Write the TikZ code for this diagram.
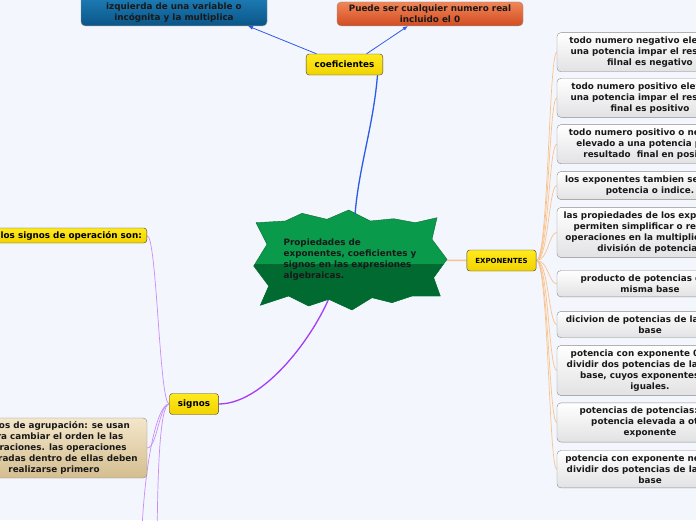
\documentclass[tikz,border=0pt]{standalone}
\usepackage{fontspec}
\setmainfont{DejaVu Sans}
\usetikzlibrary{arrows.meta, positioning, backgrounds}

\definecolor{pagebg}{HTML}{F4F6FD}
\definecolor{topicA}{HTML}{FFEA1E}
\definecolor{topicB}{HTML}{F2D200}
\definecolor{blueA}{HTML}{2386C2}
\definecolor{blueB}{HTML}{0A5688}
\definecolor{orngA}{HTML}{F08656}
\definecolor{orngB}{HTML}{D24C22}
\definecolor{tanA}{HTML}{F3E6CA}
\definecolor{tanB}{HTML}{D4BE90}
\definecolor{greyA}{HTML}{FFFFFF}
\definecolor{greyB}{HTML}{E2E2E4}
\definecolor{burstA}{HTML}{0A9A4B}
\definecolor{burstB}{HTML}{006A31}
\definecolor{burstE}{HTML}{0B6E32}
\definecolor{linkblue}{HTML}{2D5BE8}
\definecolor{linkpeach}{HTML}{F9C28A}
\definecolor{linkpurple}{HTML}{A43DF7}
\definecolor{linklilac}{HTML}{C98CF9}

\begin{document}
\begin{tikzpicture}[x=1pt, y=-1pt,
  font=\fontsize{8.8}{11}\selectfont\bfseries,
  topic/.style={draw=black!75, rounded corners=3pt, top color=topicA, bottom color=topicB,
    minimum height=21pt, inner xsep=8.5pt, inner ysep=0pt},
  notebox/.style={draw=black!45, rounded corners=4pt, align=center, inner ysep=3pt, minimum width=186pt},
  infobox/.style={draw=black!45, rounded corners=4pt, align=center, inner ysep=4.3pt,
    minimum width=186pt, top color=greyA, bottom color=greyB, text=black!90},
  mainlink/.style={line width=1.3pt},
  sublink/.style={line width=0.7pt},
  tip/.style={-{Latex[length=5pt,width=4pt]}}
]
  \useasboundingbox (0,0) rectangle (696,520);
  \begin{scope}[on background layer]
    \fill[pagebg] (0,0) rectangle (696,520);
  \end{scope}
  \clip (0,0) rectangle (696,520);

  % Central burst
  \path[draw=burstE, fill=burstA, path picture={\fill[burstB] (240,264) rectangle (460,320);}]
    (256,222.7) -- (285.3,221) -- (302,213.3) -- (327,219.3) -- (348.7,210) -- (370.3,221)
    -- (393.7,218.7) -- (415.3,222.7) -- (437,217.7) -- (432,239.3) -- (447,259.3)
    -- (433.7,277.7) -- (440.3,296) -- (412,296) -- (392,302.7) -- (372,297.7)
    -- (352,310) -- (328.7,299.3) -- (308.7,306) -- (288.7,296) -- (260.3,305.3)
    -- (268.7,286) -- (253.7,266) -- (267,244.3) -- cycle;
  \node[align=left, inner sep=0pt, text=black!90] (hub) at (350,260)
    {Propiedades de\\exponentes, coeficientes y\\signos en las expresiones\\algebraicas.};

  % Main topics
  \node[topic] (coef) at (344.5,64.5) {coeficientes};
  \node[topic, font=\fontsize{7}{9}\selectfont\bfseries] (expo) at (501.5,260.5) {EXPONENTES};
  \node[topic] (sgn) at (194,404) {signos};

  % coeficientes
  \node[notebox, top color=blueA, bottom color=blueB, text=black!90, anchor=south] (cvar) at (174,26)
    {es el numero que se encuentra a la\\izquierda de una variable o\\incógnita y la multiplica};
  \node[notebox, top color=orngA, bottom color=orngB, text=black!90, anchor=south] (creal) at (430,26)
    {Puede ser cualquier numero real\\incluido el 0};

  % EXPONENTES
  \node[infobox] (e1) at (650,52.2) {todo numero negativo elevado a\\una potencia impar el resultado\\filnal es negativo};
  \node[infobox] (e2) at (650,97.8) {todo numero positivo elevado a\\una potencia impar el resultado\\final es positivo};
  \node[infobox] (e3) at (650,144.2) {todo numero positivo o negativo\\elevado a una potencia par el\\resultado\ \ final en positivo};
  \node[infobox] (e4) at (650,185.5) {los exponentes tambien se llaman\\potencia o indice.};
  \node[infobox] (e5) at (650,232.5) {las propiedades de los exponentes\\permiten simplificar o resolver\\operaciones en la multiplicación y\\división de potencias};
  \node[infobox] (e6) at (650,283.7) {producto de potencias de la\\misma base};
  \node[infobox] (e7) at (650,324.5) {dicivion de potencias de la misma\\base};
  \node[infobox] (e8) at (650,370.5) {potencia con exponente 0: para\\dividir dos potencias de la misma\\base, cuyos exponentes son\\iguales.};
  \node[infobox] (e9) at (650,422.5) {potencias de potencias: una\\potencia elevada a otro\\exponente};
  \node[infobox] (e10) at (650,469.2) {potencia con exponente negativo:\\dividir dos potencias de la misma\\base};

  % signos
  \node[topic, minimum height=15pt, inner xsep=5pt, anchor=east] (sops) at (147,235.5) {los signos de operación son:};
  \node[notebox, top color=tanA, bottom color=tanB, text=black!90, inner ysep=3.6pt] (sagr) at (54,448)
    {signos de agrupación: se usan\\para cambiar el orden le las\\operaciones. las operaciones\\encerradas dentro de ellas deben\\realizarse primero};
  \coordinate (sgnA) at (141,570);
  \coordinate (sgnB) at (157,570);

  % Connectors
  \begin{scope}[on background layer]
    \clip (0,0) rectangle (696,520);
    \draw[linkblue, mainlink] ([xshift=4pt]hub.north) .. controls +(0,-60) and +(-5,60) .. ([xshift=33pt]coef.south);
    \draw[linkpeach, line width=1.5pt] (hub) -- (expo);
    \draw[linkpurple, mainlink] ([xshift=-15pt]hub.south) .. controls +(-10,40) and +(50,0) .. (sgn.east);
    \foreach \leaf in {e1,e2,e3,e4,e5,e6,e7,e8,e9,e10}
      \draw[linkpeach, sublink] (expo.east) .. controls +(12,0) and +(-8,0) .. (\leaf.west);
    \foreach \leaf in {sops,sagr}
      \draw[linklilac, sublink] (sgn.west) .. controls +(-10,0) and +(10,0) .. (\leaf.east);
    \draw[linklilac, sublink] (sgn.west) .. controls +(-14,0) and +(0,-90) .. (sgnA);
    \draw[linklilac, sublink] (sgn.west) .. controls +(-10,0) and +(0,-90) .. (sgnB);
  \end{scope}
  \draw[linkblue, line width=0.8pt, tip] ([xshift=-28pt]coef.north) -- ([xshift=74pt]cvar.south);
  \draw[linkblue, line width=0.8pt, tip] ([xshift=22pt]coef.north) -- ([xshift=-22pt]creal.south);
\end{tikzpicture}
\end{document}
